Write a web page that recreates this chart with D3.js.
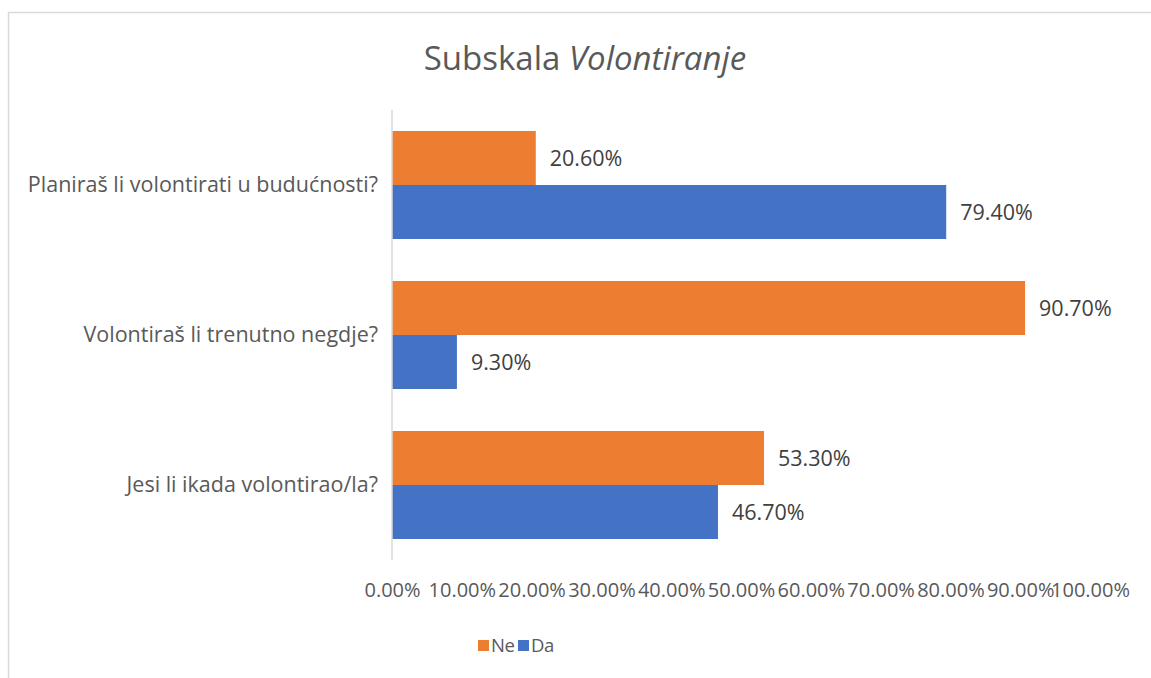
<!DOCTYPE html>
<html>
<head>
<meta charset="utf-8">
<script src="https://cdn.jsdelivr.net/npm/d3@7"></script>
<style>
  body { margin: 0; background: #fff; }
  svg text { font-family: "Open Sans", Lato, sans-serif; }
</style>
</head>
<body>
<svg id="chart" width="1151" height="678"></svg>
<script>
(function () {
  'use strict';

  var categories = [
    'Planiraš li volontirati u budućnosti?',
    'Volontiraš li trenutno negdje?',
    'Jesi li ikada volontirao/la?'
  ];
  var seriesNames = ['Ne', 'Da'];
  var ne = [20.6, 90.7, 53.3];
  var da = [79.4, 9.3, 46.7];
  var tickValues = [0, 10, 20, 30, 40, 50, 60, 70, 80, 90, 100];

  var colors = { Ne: '#ED7D31', Da: '#4472C4' };
  var textColor = '#595959';

  var svg = d3.select('#chart');

  // chart border (only top and left visible in the crop)
  svg.append('rect')
    .attr('x', 8.5).attr('y', 12.5)
    .attr('width', 1160).attr('height', 700)
    .attr('fill', 'none')
    .attr('stroke', '#d9d9d9')
    .attr('stroke-width', 1.5);

  // title
  var title = svg.append('text')
    .attr('x', 585).attr('y', 70)
    .attr('text-anchor', 'middle')
    .attr('fill', textColor)
    .style('font-size', '33px');
  title.append('tspan').text('Subskala ');
  title.append('tspan').style('font-style', 'italic').text('Volontiranje');

  var left = 392, right = 1090, top = 110, bottom = 560;

  var x = d3.scaleLinear().domain([0, 100]).range([left, right]);
  var y = d3.scaleBand().domain(categories).range([top, bottom]).paddingInner(0.28).paddingOuter(0.14);
  var ySub = d3.scaleBand().domain(seriesNames).range([0, y.bandwidth()]);

  var rows = categories.map(function (c, i) {
    return { cat: c, values: [{ key: 'Ne', v: ne[i] }, { key: 'Da', v: da[i] }] };
  });

  var groups = svg.selectAll('.grp')
    .data(rows)
    .enter().append('g')
    .attr('class', 'grp')
    .attr('transform', function (d) { return 'translate(0,' + y(d.cat) + ')'; });

  groups.selectAll('rect')
    .data(function (d) { return d.values; })
    .enter().append('rect')
    .attr('x', x(0))
    .attr('y', function (d) { return ySub(d.key); })
    .attr('width', function (d) { return x(d.v) - x(0); })
    .attr('height', ySub.bandwidth())
    .attr('fill', function (d) { return colors[d.key]; });

  groups.selectAll('.lbl')
    .data(function (d) { return d.values; })
    .enter().append('text')
    .attr('class', 'lbl')
    .attr('x', function (d) { return x(d.v) + 14; })
    .attr('y', function (d) { return ySub(d.key) + ySub.bandwidth() / 2; })
    .attr('dy', '0.35em')
    .attr('fill', '#404040')
    .style('font-size', '21.5px')
    .text(function (d) { return d.v.toFixed(2) + '%'; });

  // category axis
  var yAxis = svg.append('g')
    .attr('transform', 'translate(' + left + ',0)')
    .call(d3.axisLeft(y).tickSize(0).tickPadding(14));
  yAxis.select('.domain').attr('stroke', '#d9d9d9').attr('stroke-width', 1.5)
    .attr('d', 'M0,' + top + 'V' + bottom);
  yAxis.selectAll('text').attr('fill', textColor).style('font-size', '21.5px');

  // value axis (labels only)
  var xAxis = svg.append('g')
    .attr('transform', 'translate(0,' + (bottom + 20) + ')')
    .call(d3.axisBottom(x).tickValues(tickValues).tickSize(0)
      .tickFormat(function (d) { return d.toFixed(2) + '%'; }));
  xAxis.select('.domain').remove();
  xAxis.selectAll('text').attr('fill', textColor).style('font-size', '20px');

  // legend
  var legend = svg.append('g').attr('transform', 'translate(478,640)');
  var lx = [0, 40];
  seriesNames.forEach(function (s, i) {
    legend.append('rect')
      .attr('x', lx[i]).attr('y', 0)
      .attr('width', 11).attr('height', 11)
      .attr('fill', colors[s]);
    legend.append('text')
      .attr('x', lx[i] + 13).attr('y', 6)
      .attr('dy', '0.35em')
      .attr('fill', textColor)
      .style('font-size', '18.5px')
      .style('letter-spacing', '-0.5px')
      .text(s);
  });
}());
</script>
</body>
</html>
